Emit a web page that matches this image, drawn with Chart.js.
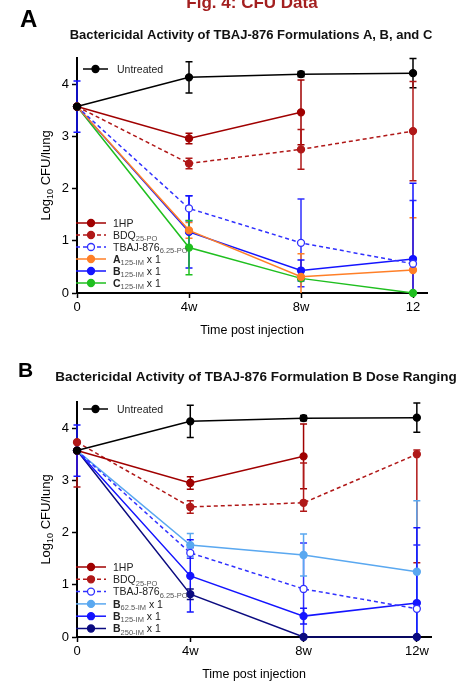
<!DOCTYPE html>
<html>
<head>
<meta charset="utf-8">
<script src="https://cdn.jsdelivr.net/npm/chart.js@4.4.1/dist/chart.umd.min.js"></script>
<style>
  body { margin: 0; background: #fff; width: 467px; height: 684px; overflow: hidden; position: relative; }
  canvas { position: absolute; left: 0; }
  #cA { top: 0; }
  #cB { top: 342px; }
</style>
</head>
<body>
<canvas id="cA" width="467" height="342"></canvas>
<canvas id="cB" width="467" height="342"></canvas>
<script>
// time points (weeks) and axis labels
const weeks = [0, 4, 8, 12];
const yTicks = [0, 1, 2, 3, 4];
const xLabelsA = ['0', '4w', '8w', '12'];
const xLabelsB = ['0', '4w', '8w', '12w'];

// Panel A - formulations A, B and C  (error = SD, or [minus, plus])
const untreatedA = [3.57, 4.13, 4.19, 4.21];
const untreatedErrA = [0, 0.30, 0.05, 0.28];
const hpA = [3.57, 2.96, 3.46, null];
const hpErrA = [0, 0.10, 0.62, 0];
const bdqA = [3.57, 2.48, 2.75, 3.10];
const bdqErrA = [0, 0.10, 0.38, 0.95];
const tbajA = [3.57, 1.62, 0.96, 0.56];
const tbajErrA = [0, 0.24, 0.84, 1.21];
const formA = [3.57, 1.20, 0.31, 0.44];
const formAErr = [0, 0.15, 0.44, 1.00];
const formB = [3.57, 1.17, 0.43, 0.65];
const formBErr = [0.49, 0.69, 0.20, 1.45];
const formC = [3.57, 0.87, 0.28, 0];
const formCErr = [0, 0.52, 0, 0];

// Panel B - formulation B dose ranging
const untreatedB = [3.57, 4.13, 4.19, 4.20];
const untreatedErrB = [0, 0.31, 0.05, 0.28];
const hpB = [3.57, 2.95, 3.46, null];
const hpErrB = [0, 0.12, 0.62, 0];
const bdqB = [3.73, 2.49, 2.57, 3.50];
const bdqErrB = [[0.86, 0], 0.12, [0.16, 0.76], [2.08, 0.08]];
const tbajB = [3.57, 1.61, 0.92, 0.54];
const tbajErrB = [0, 0.10, 0.88, 1.22];
const b62 = [3.57, 1.76, 1.57, 1.25];
const b62Err = [0, 0.22, 0.40, 1.36];
const b125 = [3.57, 1.17, 0.40, 0.65];
const b125Err = [0.49, 0.69, 0.15, 1.44];
const b250 = [3.57, 0.82, 0, 0];
const b250Err = [0, 0.10, 0, 0];

// legend texts : [main, subscript, suffix]
const legendA = [['1HP'], ['BDQ', '25-PO'], ['TBAJ-876', '6.25-PO'], ['A', '125-IM', ' x 1'], ['B', '125-IM', ' x 1'], ['C', '125-IM', ' x 1']];
const legendB = [['1HP'], ['BDQ', '25-PO'], ['TBAJ-876', '6.25-PO'], ['B', '62.5-IM', ' x 1'], ['B', '125-IM', ' x 1'], ['B', '250-IM', ' x 1']];

const FONT = '"Liberation Sans", Arial, sans-serif';
const RED = '#a00000';

function series(label, vals, err, color, extra) {
  return Object.assign({
    label: label,
    data: weeks.map((w, i) => ({ x: w, y: vals[i] })),
    err: err,
    borderColor: color,
    backgroundColor: color,
    pointBackgroundColor: color,
    pointBorderColor: color,
    borderWidth: 1.5,
    pointRadius: 3.5,
    pointHoverRadius: 3.5,
    pointBorderWidth: 1.3,
    tension: 0,
    spanGaps: false,
    clip: false
  }, extra || {});
}

// draw a run of text pieces: [text, size, bold, dy, color]
function drawParts(ctx, parts, x, y, align) {
  let w = 0;
  parts.forEach(p => {
    ctx.font = (p[2] ? 'bold ' : '') + p[1] + 'px ' + FONT;
    w += ctx.measureText(p[0]).width;
  });
  let cx = align === 'center' ? x - w / 2 : x;
  parts.forEach(p => {
    ctx.font = (p[2] ? 'bold ' : '') + p[1] + 'px ' + FONT;
    ctx.fillStyle = p[4] || '#000';
    ctx.fillText(p[0], cx, y + p[3]);
    cx += ctx.measureText(p[0]).width;
  });
}

function legendParts(item) {
  const parts = [[item[0], 10.5, item.length > 2, 0, '#222']];
  if (item[1]) parts.push([item[1], 7.5, false, 2.5, '#555']);
  if (item[2]) parts.push([item[2], 10.5, false, 0, '#222']);
  return parts;
}

function legendSample(ctx, ds, x0, x1, y) {
  ctx.save();
  ctx.strokeStyle = ds.borderColor;
  ctx.lineWidth = 1.5;
  ctx.setLineDash(ds.borderDash || []);
  ctx.beginPath();
  ctx.moveTo(x0, y);
  ctx.lineTo(x1, y);
  ctx.stroke();
  ctx.setLineDash([]);
  ctx.beginPath();
  ctx.arc((x0 + x1) / 2, y, 3.5, 0, Math.PI * 2);
  ctx.fillStyle = ds.pointBackgroundColor;
  ctx.fill();
  ctx.lineWidth = 1.3;
  ctx.stroke();
  ctx.restore();
}

function panelPlugin(p) {
  return {
    id: 'panel',
    // error bars under the lines and markers
    beforeDatasetsDraw(chart) {
      const ctx = chart.ctx, x = chart.scales.x, y = chart.scales.y;
      const yMax = y.max;
      chart.data.datasets.forEach(ds => {
        ctx.save();
        ctx.strokeStyle = ds.borderColor;
        ctx.lineWidth = 1.5;
        ds.data.forEach((pt, j) => {
          const e = ds.err[j];
          if (pt.y == null || !e) return;
          const lo = Array.isArray(e) ? e[0] : e;
          const hi = Array.isArray(e) ? e[1] : e;
          const px = x.getPixelForValue(pt.x);
          const vTop = pt.y + hi, vBot = pt.y - lo;
          const pTop = y.getPixelForValue(Math.min(vTop, yMax));
          const pBot = y.getPixelForValue(Math.max(vBot, 0));
          ctx.beginPath();
          ctx.moveTo(px, pTop);
          ctx.lineTo(px, pBot);
          if (hi > 0 && vTop <= yMax) { ctx.moveTo(px - 3.5, pTop); ctx.lineTo(px + 3.5, pTop); }
          if (lo > 0 && vBot >= 0) { ctx.moveTo(px - 3.5, pBot); ctx.lineTo(px + 3.5, pBot); }
          ctx.stroke();
        });
        ctx.restore();
      });
    },
    afterDraw(chart) {
      const ctx = chart.ctx, area = chart.chartArea;
      const sets = chart.data.datasets;
      ctx.save();
      ctx.textBaseline = 'alphabetic';

      // headings
      p.titles.forEach(t => drawParts(ctx, [[t.text, t.size, true, 0, t.color]], t.x, t.y, t.align));

      // legend: untreated at the top, the others bottom left
      legendSample(ctx, sets[0], 83, 108, p.legTop);
      drawParts(ctx, [['Untreated', 10.5, false, 0, '#222']], 117, p.legTop + 3.7, 'left');
      p.legend.forEach((item, i) => {
        const ly = p.rowTop + i * p.rowStep;
        legendSample(ctx, sets[i + 1], 76, 106, ly);
        drawParts(ctx, legendParts(item), 113, ly + 3.7, 'left');
      });

      // axis titles
      drawParts(ctx, [['Time post injection', 12.5, false, 0]], (area.left + area.right) / 2, p.xTitleY, 'center');
      ctx.translate(50, (area.top + area.bottom) / 2);
      ctx.rotate(-Math.PI / 2);
      drawParts(ctx, [['Log', 13, false, 0], ['10', 9, false, 3], [' CFU/lung', 13, false, 0]], 0, 0, 'center');
      ctx.restore();
    }
  };
}

function makeChart(id, sets, xLabels, p) {
  return new Chart(document.getElementById(id), {
    type: 'line',
    data: { datasets: sets },
    options: {
      responsive: false,
      animation: false,
      events: [],
      layout: { padding: { top: p.top, right: p.right, left: 0, bottom: 0 } },
      plugins: { legend: { display: false }, tooltip: { enabled: false } },
      scales: {
        x: {
          type: 'linear', min: 0, max: 12.5,
          afterFit: s => { s.height = p.xh; },
          afterBuildTicks: s => { s.ticks = weeks.map(v => ({ value: v })); },
          ticks: { callback: (v, i) => xLabels[i], autoSkip: false, maxRotation: 0, padding: 2, color: '#000', font: { size: 13, family: FONT } },
          grid: { drawOnChartArea: false, tickLength: 5, tickColor: '#000', tickWidth: 1.5 },
          border: { color: '#000', width: 2 }
        },
        y: {
          min: 0, max: 4.5,
          afterFit: s => { s.width = 77; },
          afterBuildTicks: s => { s.ticks = yTicks.map(v => ({ value: v })); },
          ticks: { padding: 3, color: '#000', font: { size: 13, family: FONT } },
          grid: { drawOnChartArea: false, tickLength: 5, tickColor: '#000', tickWidth: 1.5 },
          border: { color: '#000', width: 2 }
        }
      }
    },
    plugins: [panelPlugin(p)]
  });
}

const dash = { borderDash: [4, 3] };
const openDash = { borderDash: [4, 3], pointBackgroundColor: '#fff' };

makeChart('cA', [
  series('Untreated', untreatedA, untreatedErrA, '#000'),
  series('1HP', hpA, hpErrA, RED),
  series('BDQ', bdqA, bdqErrA, '#b01818', dash),
  series('TBAJ-876', tbajA, tbajErrA, '#3030ff', openDash),
  series('A', formA, formAErr, '#ff7f27'),
  series('B', formB, formBErr, '#1414ff'),
  series('C', formC, formCErr, '#1fbf1f')
], xLabelsA, {
  top: 58, right: 40, xh: 49, legTop: 69, rowTop: 223, rowStep: 12, xTitleY: 334,
  legend: legendA,
  titles: [
    { text: 'Fig. 4: CFU Data', size: 17, x: 252, y: 8, align: 'center', color: '#a31f1f' },
    { text: 'A', size: 24, x: 20, y: 27, align: 'left', color: '#000' },
    { text: 'Bactericidal Activity of TBAJ-876 Formulations A, B, and C', size: 13, x: 251, y: 39, align: 'center', color: '#111' }
  ]
});

makeChart('cB', [
  series('Untreated', untreatedB, untreatedErrB, '#000'),
  series('1HP', hpB, hpErrB, RED),
  series('BDQ', bdqB, bdqErrB, '#b01818', dash),
  series('TBAJ-876', tbajB, tbajErrB, '#3030ff', openDash),
  series('B62.5', b62, b62Err, '#5aa8f0'),
  series('B125', b125, b125Err, '#1414ff'),
  series('B250', b250, b250Err, '#0b0b80')
], xLabelsB, {
  top: 60, right: 36, xh: 47, legTop: 67, rowTop: 225, rowStep: 12.3, xTitleY: 336,
  legend: legendB,
  titles: [
    { text: 'B', size: 21, x: 18, y: 35, align: 'left', color: '#000' },
    { text: 'Bactericidal Activity of TBAJ-876 Formulation B Dose Ranging', size: 13.5, x: 256, y: 39, align: 'center', color: '#111' }
  ]
});
</script>
</body>
</html>
